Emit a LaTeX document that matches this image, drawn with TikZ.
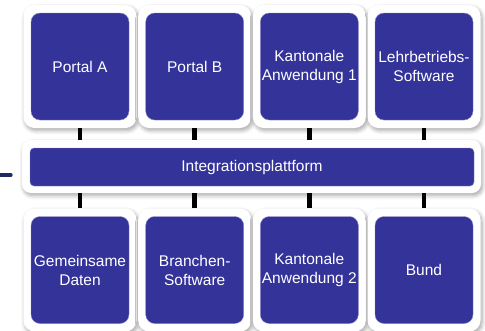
\documentclass[tikz,border=0pt]{standalone}
\usepackage{fontspec}
\setmainfont{Liberation Sans}
\usetikzlibrary{shadows.blur}
\definecolor{boxblue}{HTML}{333399}
\definecolor{boxedge}{HTML}{8A8AC8}
\definecolor{navy}{HTML}{1E2A66}
\tikzset{
  outerbox/.style={fill=white, rounded corners=11pt, inner sep=0pt,
    blur shadow={shadow blur steps=6, shadow xshift=1.5pt, shadow yshift=-2.5pt, shadow opacity=35, shadow blur radius=4pt}},
  innerbox/.style={fill=boxblue, draw=boxedge, line width=0.4pt, rounded corners=9pt, inner sep=0pt,
    minimum width=98pt, minimum height=107pt, text=white, align=center,
    font=\fontsize{15.5pt}{19pt}\selectfont},
  conn/.style={line width=4.5pt, black},
}
\begin{document}
\begin{tikzpicture}[x=1pt,y=-1pt]
\useasboundingbox (0,0) rectangle (485,330);
% top row outer boxes
\foreach \n/\c in {oa/80,ob/194.7,oc/309.3,od/424}{
  \node[outerbox, minimum width=113pt, minimum height=123pt] (\n) at (\c,66.5) {};
}
\foreach \n/\c in {ua/80,ub/194.7,uc/309.3,ud/424}{
  \node[outerbox, minimum width=113pt, minimum height=123pt] (\n) at (\c,270) {};
}
\node[outerbox, rounded corners=9pt, minimum width=459pt, minimum height=53pt] (platO) at (251.5,166.5) {};
% connectors
\foreach \n in {oa,ob,oc,od}{
  \draw[conn] (\n.south) -- (\n.south |- platO.north);
}
\foreach \n in {ua,ub,uc,ud}{
  \draw[conn] (\n.north) -- (\n.north |- platO.south);
}
% inner boxes
\node[innerbox] (pa) at (oa) {Portal A};
\node[innerbox] (pb) at (ob) {Portal B};
\node[innerbox] (ka1) at (oc) {Kantonale\\Anwendung 1};
\node[innerbox] (lb) at (od) {Lehrbetriebs-\\Software};
\node[innerbox] (gd) at (ua) {Gemeinsame\\Daten};
\node[innerbox] (bs) at (ub) {Branchen-\\Software};
\node[innerbox] (ka2) at (uc) {Kantonale\\Anwendung 2};
\node[innerbox] (bu) at (ud) {Bund};
\node[innerbox, rounded corners=4pt, minimum width=444pt, minimum height=38pt] (plat) at (252,167) {Integrationsplattform};
% fragment at left edge
\coordinate (fragA) at (-5,175);
\coordinate (fragB) at (11,175);
\draw[navy, line width=3.2pt, line cap=round] (fragA) -- (fragB);
\end{tikzpicture}
\end{document}
